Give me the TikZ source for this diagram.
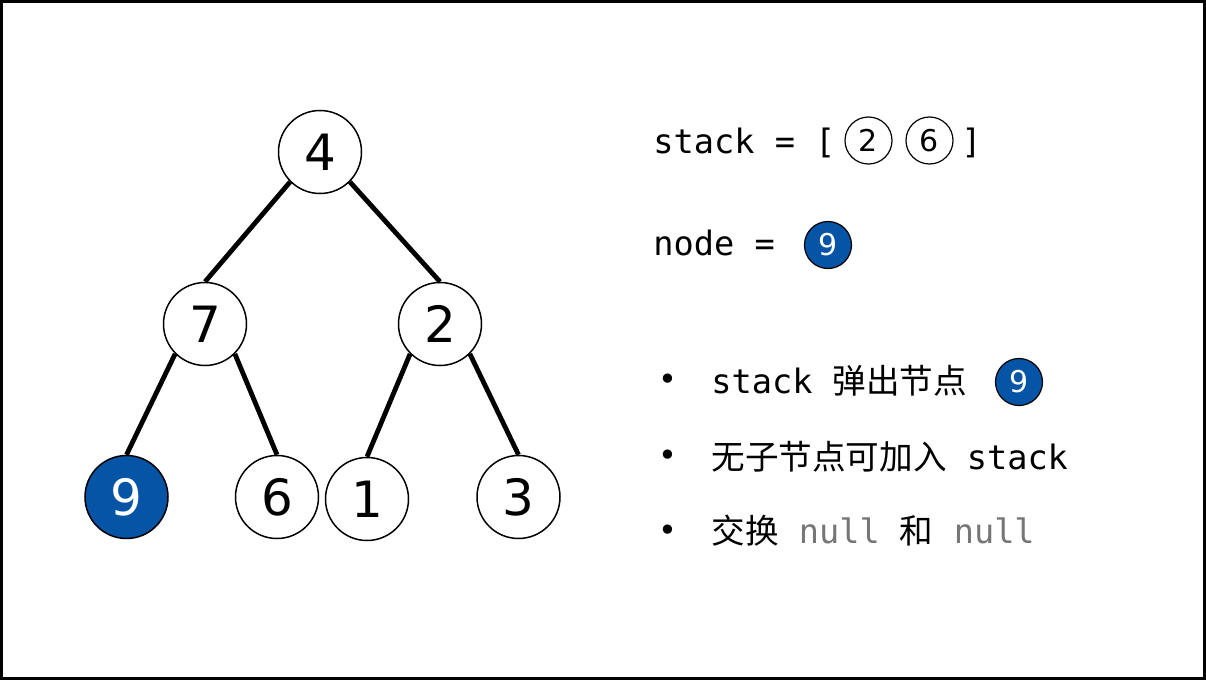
\documentclass[tikz,border=0pt]{standalone}
\usepackage{fontspec}
\setmainfont{DejaVu Sans}
\setmonofont{DejaVu Sans Mono}
\newfontfamily\cjk{Noto Sans CJK SC}
\usetikzlibrary{positioning}
\definecolor{nodeblue}{RGB}{5,84,166}
\definecolor{nullgray}{RGB}{118,118,118}

\begin{document}
\begin{tikzpicture}[x=0.5pt, y=-0.5pt,
    tnode/.style={circle, draw, line width=0.75pt, minimum size=41.5pt, inner sep=0pt,
        font=\fontsize{25}{25}\selectfont},
    hot/.style={fill=nodeblue, text=white},
    mini/.style={circle, draw, line width=0.6pt, minimum size=23.5pt, inner sep=0pt,
        font=\fontsize{15}{15}\selectfont},
    txt/.style={anchor=base west, inner sep=0pt, font=\ttfamily\fontsize{16.8}{20}\selectfont},
    dot/.style={inner sep=0pt, font=\fontsize{16}{16}\selectfont},
    edge/.style={line width=2.4pt}]

\useasboundingbox (0,0) rectangle (1206,680);
\draw[line width=1.5pt] (1.5,1.5) rectangle (1204.5,678.5);

% tree
\node[tnode] (n4) at (320,152) {4};
\node[tnode] (n7) at (205,324) {7};
\node[tnode] (n2) at (440,324) {2};
\node[tnode, hot] (n9) at (126.5,497) {9};
\node[tnode] (n6) at (277,497) {6};
\node[tnode] (n1) at (367,499) {1};
\node[tnode] (n3) at (518.5,497) {3};

\draw[edge] (n4.south west) -- (n7.north);
\draw[edge] (n4.south east) -- (n2.north);
\draw[edge] (n7.south west) -- (n9.north);
\draw[edge] (n7.south east) -- (n6.north);
\draw[edge] (n2.south west) -- (n1.north);
\draw[edge] (n2.south east) -- (n3.north);

% state
\node[txt] (stk) at (653,153) {stack = [};
\node[mini] (s2) at (868.5,140.5) {2};
\node[mini] (s6) at (929.5,140.5) {6};
\node[txt] (rb) at (961,153) {]};

\node[txt] (nd) at (653,255) {node =};
\node[mini, hot] (cur) at (828,245) {9};

% steps
\node[dot] (b1) at (668,382) {•};
\node[dot] (b2) at (668,458) {•};
\node[dot] (b3) at (668,533) {•};

\node[txt] (l1) at (711,393) {stack {\cjk 弹出节点}};
\node[mini, hot] (pop) at (1019,382) {9};
\node[txt] (l2) at (711,469) {{\cjk 无子节点可加入} stack};
\node[txt] (l3) at (711,543) {{\cjk 交换} \textcolor{nullgray}{null} {\cjk 和} \textcolor{nullgray}{null}};

\end{tikzpicture}
\end{document}
